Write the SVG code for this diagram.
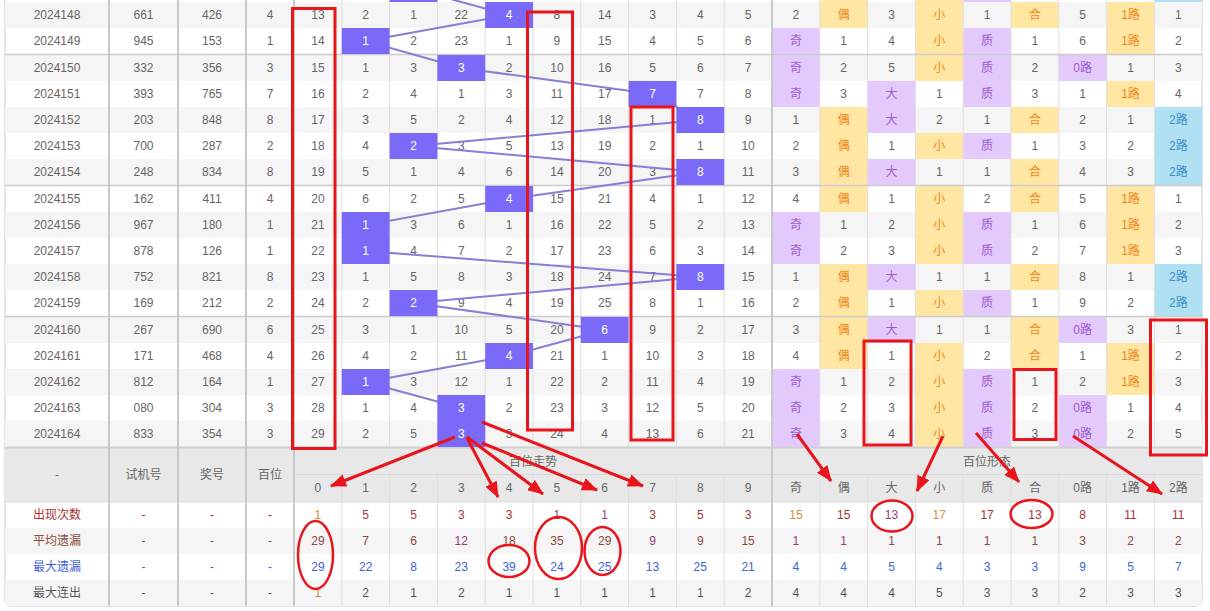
<svg xmlns="http://www.w3.org/2000/svg" width="1210" height="611" viewBox="0 0 1210 611">
<defs>
<style>
text{font-family:"Liberation Sans","Noto Sans CJK SC",sans-serif;font-size:12px;text-anchor:middle;fill:#666}
.w{fill:#fff}
.o{fill:#f0861a}
.p{fill:#9b5ed0}
.b{fill:#3e8fc4}
.cy{fill:#ffe6a3}
.cp{fill:#e4c9fc}
.cb{fill:#b0e1f2}
.hl{fill:#7b6af7}
.g{fill:#f5f5f5}
.tk{stroke:#c8c8c8;stroke-width:2}
.tn{stroke:#dedede;stroke-width:1}
.sep{stroke:#cccccc;stroke-width:1.5}
.red{fill:none;stroke:#e8151d;stroke-width:3}
.ell{fill:none;stroke:#e8151d;stroke-width:2.5}
.arr{fill:none;stroke:#e8151d;stroke-width:3;marker-end:url(#ah)}
.trend{fill:none;stroke:#877fd6;stroke-width:2}
.s1{fill:#a83232}
.s1o{fill:#d98a3a}
.s1p{fill:#9a3a7a}
.s2{fill:#8b4a3a}
.s3{fill:#4163d6}
.s4{fill:#555}
</style>
<marker id="ah" markerUnits="userSpaceOnUse" markerWidth="16" markerHeight="13" refX="15" refY="6.5" orient="auto">
<path d="M0,0 L16,6.5 L0,13 z" fill="#e8151d"/>
</marker>
</defs>
<rect x="0" y="0" width="1210" height="611" fill="#fff"/>
<g id="table">
<rect x="5" y="-10" width="1197" height="616" rx="6" fill="#fff" stroke="#dddddd" stroke-width="1.5"/>
<g id="rowbg">
<rect class="g" x="5" y="2" width="1197" height="26"/>
<rect class="g" x="5" y="55" width="1197" height="26"/>
<rect class="g" x="5" y="107" width="1197" height="26"/>
<rect class="g" x="5" y="159" width="1197" height="26"/>
<rect class="g" x="5" y="212" width="1197" height="26"/>
<rect class="g" x="5" y="264" width="1197" height="26"/>
<rect class="g" x="5" y="317" width="1197" height="26"/>
<rect class="g" x="5" y="369" width="1197" height="26"/>
<rect class="g" x="5" y="421" width="1197" height="26"/>
<rect x="5" y="448" width="1197" height="54" fill="#e8e8e8"/>
<rect class="g" x="5" y="528" width="1197" height="26"/>
<rect class="g" x="5" y="580" width="1197" height="26"/>
</g>
<g id="formbg">
<rect class="cp" x="772" y="28" width="47.8" height="79"/>
<rect class="cp" x="772" y="212" width="47.8" height="52"/>
<rect class="cp" x="772" y="369" width="47.8" height="78"/>
<rect class="cy" x="819.8" y="0" width="47.8" height="28"/>
<rect class="cy" x="819.8" y="107" width="47.8" height="105"/>
<rect class="cy" x="819.8" y="264" width="47.8" height="105"/>
<rect class="cp" x="867.6" y="81" width="47.8" height="52"/>
<rect class="cp" x="867.6" y="159" width="47.8" height="26"/>
<rect class="cp" x="867.6" y="264" width="47.8" height="26"/>
<rect class="cp" x="867.6" y="317" width="47.8" height="26"/>
<rect class="cy" x="915.4" y="0" width="47.8" height="81"/>
<rect class="cy" x="915.4" y="133" width="47.8" height="26"/>
<rect class="cy" x="915.4" y="186" width="47.8" height="78"/>
<rect class="cy" x="915.4" y="290" width="47.8" height="26"/>
<rect class="cy" x="915.4" y="343" width="47.8" height="104"/>
<rect class="cp" x="963.2" y="0" width="47.8" height="2"/>
<rect class="cp" x="963.2" y="28" width="47.8" height="79"/>
<rect class="cp" x="963.2" y="133" width="47.8" height="26"/>
<rect class="cp" x="963.2" y="212" width="47.8" height="52"/>
<rect class="cp" x="963.2" y="290" width="47.8" height="26"/>
<rect class="cp" x="963.2" y="369" width="47.8" height="78"/>
<rect class="cy" x="1011" y="2" width="47.8" height="26"/>
<rect class="cy" x="1011" y="107" width="47.8" height="26"/>
<rect class="cy" x="1011" y="159" width="47.8" height="53"/>
<rect class="cy" x="1011" y="264" width="47.8" height="26"/>
<rect class="cy" x="1011" y="317" width="47.8" height="52"/>
<rect class="cp" x="1058.8" y="55" width="47.8" height="26"/>
<rect class="cp" x="1058.8" y="317" width="47.8" height="26"/>
<rect class="cp" x="1058.8" y="395" width="47.8" height="52"/>
<rect class="cy" x="1106.6" y="2" width="47.8" height="52"/>
<rect class="cy" x="1106.6" y="81" width="47.8" height="26"/>
<rect class="cy" x="1106.6" y="186" width="47.8" height="78"/>
<rect class="cy" x="1106.6" y="343" width="47.8" height="52"/>
<rect class="cb" x="1154.4" y="0" width="47.8" height="2"/>
<rect class="cb" x="1154.4" y="107" width="47.8" height="78"/>
<rect class="cb" x="1154.4" y="264" width="47.8" height="52"/>
</g>
<g id="grid">
<line class="tn" x1="341.8" y1="0" x2="341.8" y2="447"/><line class="tn" x1="389.6" y1="0" x2="389.6" y2="447"/><line class="tn" x1="437.4" y1="0" x2="437.4" y2="447"/><line class="tn" x1="485.2" y1="0" x2="485.2" y2="447"/><line class="tn" x1="533" y1="0" x2="533" y2="447"/><line class="tn" x1="580.8" y1="0" x2="580.8" y2="447"/><line class="tn" x1="628.6" y1="0" x2="628.6" y2="447"/><line class="tn" x1="676.4" y1="0" x2="676.4" y2="447"/><line class="tn" x1="724.2" y1="0" x2="724.2" y2="447"/>
<line class="tn" x1="819.8" y1="0" x2="819.8" y2="447"/><line class="tn" x1="867.6" y1="0" x2="867.6" y2="447"/><line class="tn" x1="915.4" y1="0" x2="915.4" y2="447"/><line class="tn" x1="963.2" y1="0" x2="963.2" y2="447"/><line class="tn" x1="1011" y1="0" x2="1011" y2="447"/><line class="tn" x1="1058.8" y1="0" x2="1058.8" y2="447"/><line class="tn" x1="1106.6" y1="0" x2="1106.6" y2="447"/><line class="tn" x1="1154.4" y1="0" x2="1154.4" y2="447"/>
<line class="tn" x1="341.8" y1="475" x2="341.8" y2="606"/><line class="tn" x1="389.6" y1="475" x2="389.6" y2="606"/><line class="tn" x1="437.4" y1="475" x2="437.4" y2="606"/><line class="tn" x1="485.2" y1="475" x2="485.2" y2="606"/><line class="tn" x1="533" y1="475" x2="533" y2="606"/><line class="tn" x1="580.8" y1="475" x2="580.8" y2="606"/><line class="tn" x1="628.6" y1="475" x2="628.6" y2="606"/><line class="tn" x1="676.4" y1="475" x2="676.4" y2="606"/><line class="tn" x1="724.2" y1="475" x2="724.2" y2="606"/>
<line class="tn" x1="819.8" y1="475" x2="819.8" y2="606"/><line class="tn" x1="867.6" y1="475" x2="867.6" y2="606"/><line class="tn" x1="915.4" y1="475" x2="915.4" y2="606"/><line class="tn" x1="963.2" y1="475" x2="963.2" y2="606"/><line class="tn" x1="1011" y1="475" x2="1011" y2="606"/><line class="tn" x1="1058.8" y1="475" x2="1058.8" y2="606"/><line class="tn" x1="1106.6" y1="475" x2="1106.6" y2="606"/><line class="tn" x1="1154.4" y1="475" x2="1154.4" y2="606"/>
<line class="sep" x1="5" y1="54.5" x2="1202" y2="54.5"/>
<line class="sep" x1="5" y1="185.5" x2="1202" y2="185.5"/>
<line class="sep" x1="5" y1="316.5" x2="1202" y2="316.5"/>
<line x1="5" y1="447.5" x2="1202" y2="447.5" stroke="#d0d0d0" stroke-width="2"/>
<line x1="294" y1="474.5" x2="1202" y2="474.5" stroke="#d8d8d8" stroke-width="1"/>
<line x1="5" y1="502" x2="1202" y2="502" stroke="#dcdcdc" stroke-width="1"/>
<line class="tk" x1="109" y1="0" x2="109" y2="606"/>
<line class="tk" x1="178" y1="0" x2="178" y2="606"/>
<line class="tk" x1="246" y1="0" x2="246" y2="606"/>
<line class="tk" x1="294" y1="0" x2="294" y2="606"/>
<line class="tk" x1="772" y1="0" x2="772" y2="606"/>
</g>
<g id="rows">
<text y="19"><tspan x="57">2024148</tspan><tspan x="143.5">661</tspan><tspan x="212">426</tspan><tspan x="270">4</tspan><tspan x="317.9">13</tspan><tspan x="365.7">2</tspan><tspan x="413.5">1</tspan><tspan x="461.3">22</tspan><tspan x="556.9">8</tspan><tspan x="604.7">14</tspan><tspan x="652.5">3</tspan><tspan x="700.3">4</tspan><tspan x="748.1">5</tspan><tspan x="795.9">2</tspan><tspan x="843.7" class="o">偶</tspan><tspan x="891.5">3</tspan><tspan x="939.3" class="o">小</tspan><tspan x="987.1">1</tspan><tspan x="1034.9" class="o">合</tspan><tspan x="1082.7">5</tspan><tspan x="1130.5" class="o">1路</tspan><tspan x="1178.3">1</tspan></text>
<text y="45"><tspan x="57">2024149</tspan><tspan x="143.5">945</tspan><tspan x="212">153</tspan><tspan x="270">1</tspan><tspan x="317.9">14</tspan><tspan x="413.5">2</tspan><tspan x="461.3">23</tspan><tspan x="509.1">1</tspan><tspan x="556.9">9</tspan><tspan x="604.7">15</tspan><tspan x="652.5">4</tspan><tspan x="700.3">5</tspan><tspan x="748.1">6</tspan><tspan x="795.9" class="p">奇</tspan><tspan x="843.7">1</tspan><tspan x="891.5">4</tspan><tspan x="939.3" class="o">小</tspan><tspan x="987.1" class="p">质</tspan><tspan x="1034.9">1</tspan><tspan x="1082.7">6</tspan><tspan x="1130.5" class="o">1路</tspan><tspan x="1178.3">2</tspan></text>
<text y="72"><tspan x="57">2024150</tspan><tspan x="143.5">332</tspan><tspan x="212">356</tspan><tspan x="270">3</tspan><tspan x="317.9">15</tspan><tspan x="365.7">1</tspan><tspan x="413.5">3</tspan><tspan x="509.1">2</tspan><tspan x="556.9">10</tspan><tspan x="604.7">16</tspan><tspan x="652.5">5</tspan><tspan x="700.3">6</tspan><tspan x="748.1">7</tspan><tspan x="795.9" class="p">奇</tspan><tspan x="843.7">2</tspan><tspan x="891.5">5</tspan><tspan x="939.3" class="o">小</tspan><tspan x="987.1" class="p">质</tspan><tspan x="1034.9">2</tspan><tspan x="1082.7" class="p">0路</tspan><tspan x="1130.5">1</tspan><tspan x="1178.3">3</tspan></text>
<text y="98"><tspan x="57">2024151</tspan><tspan x="143.5">393</tspan><tspan x="212">765</tspan><tspan x="270">7</tspan><tspan x="317.9">16</tspan><tspan x="365.7">2</tspan><tspan x="413.5">4</tspan><tspan x="461.3">1</tspan><tspan x="509.1">3</tspan><tspan x="556.9">11</tspan><tspan x="604.7">17</tspan><tspan x="700.3">7</tspan><tspan x="748.1">8</tspan><tspan x="795.9" class="p">奇</tspan><tspan x="843.7">3</tspan><tspan x="891.5" class="p">大</tspan><tspan x="939.3">1</tspan><tspan x="987.1" class="p">质</tspan><tspan x="1034.9">3</tspan><tspan x="1082.7">1</tspan><tspan x="1130.5" class="o">1路</tspan><tspan x="1178.3">4</tspan></text>
<text y="124"><tspan x="57">2024152</tspan><tspan x="143.5">203</tspan><tspan x="212">848</tspan><tspan x="270">8</tspan><tspan x="317.9">17</tspan><tspan x="365.7">3</tspan><tspan x="413.5">5</tspan><tspan x="461.3">2</tspan><tspan x="509.1">4</tspan><tspan x="556.9">12</tspan><tspan x="604.7">18</tspan><tspan x="652.5">1</tspan><tspan x="748.1">9</tspan><tspan x="795.9">1</tspan><tspan x="843.7" class="o">偶</tspan><tspan x="891.5" class="p">大</tspan><tspan x="939.3">2</tspan><tspan x="987.1">1</tspan><tspan x="1034.9" class="o">合</tspan><tspan x="1082.7">2</tspan><tspan x="1130.5">1</tspan><tspan x="1178.3" class="b">2路</tspan></text>
<text y="150"><tspan x="57">2024153</tspan><tspan x="143.5">700</tspan><tspan x="212">287</tspan><tspan x="270">2</tspan><tspan x="317.9">18</tspan><tspan x="365.7">4</tspan><tspan x="461.3">3</tspan><tspan x="509.1">5</tspan><tspan x="556.9">13</tspan><tspan x="604.7">19</tspan><tspan x="652.5">2</tspan><tspan x="700.3">1</tspan><tspan x="748.1">10</tspan><tspan x="795.9">2</tspan><tspan x="843.7" class="o">偶</tspan><tspan x="891.5">1</tspan><tspan x="939.3" class="o">小</tspan><tspan x="987.1" class="p">质</tspan><tspan x="1034.9">1</tspan><tspan x="1082.7">3</tspan><tspan x="1130.5">2</tspan><tspan x="1178.3" class="b">2路</tspan></text>
<text y="176"><tspan x="57">2024154</tspan><tspan x="143.5">248</tspan><tspan x="212">834</tspan><tspan x="270">8</tspan><tspan x="317.9">19</tspan><tspan x="365.7">5</tspan><tspan x="413.5">1</tspan><tspan x="461.3">4</tspan><tspan x="509.1">6</tspan><tspan x="556.9">14</tspan><tspan x="604.7">20</tspan><tspan x="652.5">3</tspan><tspan x="748.1">11</tspan><tspan x="795.9">3</tspan><tspan x="843.7" class="o">偶</tspan><tspan x="891.5" class="p">大</tspan><tspan x="939.3">1</tspan><tspan x="987.1">1</tspan><tspan x="1034.9" class="o">合</tspan><tspan x="1082.7">4</tspan><tspan x="1130.5">3</tspan><tspan x="1178.3" class="b">2路</tspan></text>
<text y="203"><tspan x="57">2024155</tspan><tspan x="143.5">162</tspan><tspan x="212">411</tspan><tspan x="270">4</tspan><tspan x="317.9">20</tspan><tspan x="365.7">6</tspan><tspan x="413.5">2</tspan><tspan x="461.3">5</tspan><tspan x="556.9">15</tspan><tspan x="604.7">21</tspan><tspan x="652.5">4</tspan><tspan x="700.3">1</tspan><tspan x="748.1">12</tspan><tspan x="795.9">4</tspan><tspan x="843.7" class="o">偶</tspan><tspan x="891.5">1</tspan><tspan x="939.3" class="o">小</tspan><tspan x="987.1">2</tspan><tspan x="1034.9" class="o">合</tspan><tspan x="1082.7">5</tspan><tspan x="1130.5" class="o">1路</tspan><tspan x="1178.3">1</tspan></text>
<text y="229"><tspan x="57">2024156</tspan><tspan x="143.5">967</tspan><tspan x="212">180</tspan><tspan x="270">1</tspan><tspan x="317.9">21</tspan><tspan x="413.5">3</tspan><tspan x="461.3">6</tspan><tspan x="509.1">1</tspan><tspan x="556.9">16</tspan><tspan x="604.7">22</tspan><tspan x="652.5">5</tspan><tspan x="700.3">2</tspan><tspan x="748.1">13</tspan><tspan x="795.9" class="p">奇</tspan><tspan x="843.7">1</tspan><tspan x="891.5">2</tspan><tspan x="939.3" class="o">小</tspan><tspan x="987.1" class="p">质</tspan><tspan x="1034.9">1</tspan><tspan x="1082.7">6</tspan><tspan x="1130.5" class="o">1路</tspan><tspan x="1178.3">2</tspan></text>
<text y="255"><tspan x="57">2024157</tspan><tspan x="143.5">878</tspan><tspan x="212">126</tspan><tspan x="270">1</tspan><tspan x="317.9">22</tspan><tspan x="413.5">4</tspan><tspan x="461.3">7</tspan><tspan x="509.1">2</tspan><tspan x="556.9">17</tspan><tspan x="604.7">23</tspan><tspan x="652.5">6</tspan><tspan x="700.3">3</tspan><tspan x="748.1">14</tspan><tspan x="795.9" class="p">奇</tspan><tspan x="843.7">2</tspan><tspan x="891.5">3</tspan><tspan x="939.3" class="o">小</tspan><tspan x="987.1" class="p">质</tspan><tspan x="1034.9">2</tspan><tspan x="1082.7">7</tspan><tspan x="1130.5" class="o">1路</tspan><tspan x="1178.3">3</tspan></text>
<text y="281"><tspan x="57">2024158</tspan><tspan x="143.5">752</tspan><tspan x="212">821</tspan><tspan x="270">8</tspan><tspan x="317.9">23</tspan><tspan x="365.7">1</tspan><tspan x="413.5">5</tspan><tspan x="461.3">8</tspan><tspan x="509.1">3</tspan><tspan x="556.9">18</tspan><tspan x="604.7">24</tspan><tspan x="652.5">7</tspan><tspan x="748.1">15</tspan><tspan x="795.9">1</tspan><tspan x="843.7" class="o">偶</tspan><tspan x="891.5" class="p">大</tspan><tspan x="939.3">1</tspan><tspan x="987.1">1</tspan><tspan x="1034.9" class="o">合</tspan><tspan x="1082.7">8</tspan><tspan x="1130.5">1</tspan><tspan x="1178.3" class="b">2路</tspan></text>
<text y="307"><tspan x="57">2024159</tspan><tspan x="143.5">169</tspan><tspan x="212">212</tspan><tspan x="270">2</tspan><tspan x="317.9">24</tspan><tspan x="365.7">2</tspan><tspan x="461.3">9</tspan><tspan x="509.1">4</tspan><tspan x="556.9">19</tspan><tspan x="604.7">25</tspan><tspan x="652.5">8</tspan><tspan x="700.3">1</tspan><tspan x="748.1">16</tspan><tspan x="795.9">2</tspan><tspan x="843.7" class="o">偶</tspan><tspan x="891.5">1</tspan><tspan x="939.3" class="o">小</tspan><tspan x="987.1" class="p">质</tspan><tspan x="1034.9">1</tspan><tspan x="1082.7">9</tspan><tspan x="1130.5">2</tspan><tspan x="1178.3" class="b">2路</tspan></text>
<text y="334"><tspan x="57">2024160</tspan><tspan x="143.5">267</tspan><tspan x="212">690</tspan><tspan x="270">6</tspan><tspan x="317.9">25</tspan><tspan x="365.7">3</tspan><tspan x="413.5">1</tspan><tspan x="461.3">10</tspan><tspan x="509.1">5</tspan><tspan x="556.9">20</tspan><tspan x="652.5">9</tspan><tspan x="700.3">2</tspan><tspan x="748.1">17</tspan><tspan x="795.9">3</tspan><tspan x="843.7" class="o">偶</tspan><tspan x="891.5" class="p">大</tspan><tspan x="939.3">1</tspan><tspan x="987.1">1</tspan><tspan x="1034.9" class="o">合</tspan><tspan x="1082.7" class="p">0路</tspan><tspan x="1130.5">3</tspan><tspan x="1178.3">1</tspan></text>
<text y="360"><tspan x="57">2024161</tspan><tspan x="143.5">171</tspan><tspan x="212">468</tspan><tspan x="270">4</tspan><tspan x="317.9">26</tspan><tspan x="365.7">4</tspan><tspan x="413.5">2</tspan><tspan x="461.3">11</tspan><tspan x="556.9">21</tspan><tspan x="604.7">1</tspan><tspan x="652.5">10</tspan><tspan x="700.3">3</tspan><tspan x="748.1">18</tspan><tspan x="795.9">4</tspan><tspan x="843.7" class="o">偶</tspan><tspan x="891.5">1</tspan><tspan x="939.3" class="o">小</tspan><tspan x="987.1">2</tspan><tspan x="1034.9" class="o">合</tspan><tspan x="1082.7">1</tspan><tspan x="1130.5" class="o">1路</tspan><tspan x="1178.3">2</tspan></text>
<text y="386"><tspan x="57">2024162</tspan><tspan x="143.5">812</tspan><tspan x="212">164</tspan><tspan x="270">1</tspan><tspan x="317.9">27</tspan><tspan x="413.5">3</tspan><tspan x="461.3">12</tspan><tspan x="509.1">1</tspan><tspan x="556.9">22</tspan><tspan x="604.7">2</tspan><tspan x="652.5">11</tspan><tspan x="700.3">4</tspan><tspan x="748.1">19</tspan><tspan x="795.9" class="p">奇</tspan><tspan x="843.7">1</tspan><tspan x="891.5">2</tspan><tspan x="939.3" class="o">小</tspan><tspan x="987.1" class="p">质</tspan><tspan x="1034.9">1</tspan><tspan x="1082.7">2</tspan><tspan x="1130.5" class="o">1路</tspan><tspan x="1178.3">3</tspan></text>
<text y="412"><tspan x="57">2024163</tspan><tspan x="143.5">080</tspan><tspan x="212">304</tspan><tspan x="270">3</tspan><tspan x="317.9">28</tspan><tspan x="365.7">1</tspan><tspan x="413.5">4</tspan><tspan x="509.1">2</tspan><tspan x="556.9">23</tspan><tspan x="604.7">3</tspan><tspan x="652.5">12</tspan><tspan x="700.3">5</tspan><tspan x="748.1">20</tspan><tspan x="795.9" class="p">奇</tspan><tspan x="843.7">2</tspan><tspan x="891.5">3</tspan><tspan x="939.3" class="o">小</tspan><tspan x="987.1" class="p">质</tspan><tspan x="1034.9">2</tspan><tspan x="1082.7" class="p">0路</tspan><tspan x="1130.5">1</tspan><tspan x="1178.3">4</tspan></text>
<text y="438"><tspan x="57">2024164</tspan><tspan x="143.5">833</tspan><tspan x="212">354</tspan><tspan x="270">3</tspan><tspan x="317.9">29</tspan><tspan x="365.7">2</tspan><tspan x="413.5">5</tspan><tspan x="509.1">3</tspan><tspan x="556.9">24</tspan><tspan x="604.7">4</tspan><tspan x="652.5">13</tspan><tspan x="700.3">6</tspan><tspan x="748.1">21</tspan><tspan x="795.9" class="p">奇</tspan><tspan x="843.7">3</tspan><tspan x="891.5">4</tspan><tspan x="939.3" class="o">小</tspan><tspan x="987.1" class="p">质</tspan><tspan x="1034.9">3</tspan><tspan x="1082.7" class="p">0路</tspan><tspan x="1130.5">2</tspan><tspan x="1178.3">5</tspan></text>
</g>
<g id="header">
<text x="57" y="479">-</text>
<text x="143.5" y="478.5">试机号</text>
<text x="212" y="478.5">奖号</text>
<text x="270" y="478.5">百位</text>
<text x="533" y="466">百位走势</text>
<text x="987.1" y="466">百位形态</text>
<text y="492"><tspan x="317.9">0</tspan><tspan x="365.7">1</tspan><tspan x="413.5">2</tspan><tspan x="461.3">3</tspan><tspan x="509.1">4</tspan><tspan x="556.9">5</tspan><tspan x="604.7">6</tspan><tspan x="652.5">7</tspan><tspan x="700.3">8</tspan><tspan x="748.1">9</tspan><tspan x="795.9">奇</tspan><tspan x="843.7">偶</tspan><tspan x="891.5">大</tspan><tspan x="939.3">小</tspan><tspan x="987.1">质</tspan><tspan x="1034.9">合</tspan><tspan x="1082.7">0路</tspan><tspan x="1130.5">1路</tspan><tspan x="1178.3">2路</tspan></text>
</g>
<g id="stats">
<text y="519" class="s1"><tspan x="57">出现次数</tspan><tspan x="143.5">-</tspan><tspan x="212">-</tspan><tspan x="270">-</tspan><tspan x="317.9" class="s1o">1</tspan><tspan x="365.7">5</tspan><tspan x="413.5">5</tspan><tspan x="461.3">3</tspan><tspan x="509.1">3</tspan><tspan x="556.9" class="s1p">1</tspan><tspan x="604.7" class="s1p">1</tspan><tspan x="652.5">3</tspan><tspan x="700.3">5</tspan><tspan x="748.1">3</tspan><tspan x="795.9" class="s1o">15</tspan><tspan x="843.7">15</tspan><tspan x="891.5" class="s1p">13</tspan><tspan x="939.3" class="s1o">17</tspan><tspan x="987.1">17</tspan><tspan x="1034.9">13</tspan><tspan x="1082.7">8</tspan><tspan x="1130.5">11</tspan><tspan x="1178.3">11</tspan></text>
<text y="545" class="s2"><tspan x="57">平均遗漏</tspan><tspan x="143.5">-</tspan><tspan x="212">-</tspan><tspan x="270">-</tspan><tspan x="317.9">29</tspan><tspan x="365.7">7</tspan><tspan x="413.5">6</tspan><tspan x="461.3" class="s1p">12</tspan><tspan x="509.1">18</tspan><tspan x="556.9">35</tspan><tspan x="604.7">29</tspan><tspan x="652.5" class="s1p">9</tspan><tspan x="700.3">9</tspan><tspan x="748.1">15</tspan><tspan x="795.9" class="s1p">1</tspan><tspan x="843.7" class="s1p">1</tspan><tspan x="891.5">1</tspan><tspan x="939.3">1</tspan><tspan x="987.1">1</tspan><tspan x="1034.9">1</tspan><tspan x="1082.7">3</tspan><tspan x="1130.5">2</tspan><tspan x="1178.3">2</tspan></text>
<text y="571" class="s3"><tspan x="57">最大遗漏</tspan><tspan x="143.5">-</tspan><tspan x="212">-</tspan><tspan x="270">-</tspan><tspan x="317.9">29</tspan><tspan x="365.7">22</tspan><tspan x="413.5">8</tspan><tspan x="461.3">23</tspan><tspan x="509.1">39</tspan><tspan x="556.9">24</tspan><tspan x="604.7">25</tspan><tspan x="652.5">13</tspan><tspan x="700.3">25</tspan><tspan x="748.1">21</tspan><tspan x="795.9">4</tspan><tspan x="843.7">4</tspan><tspan x="891.5">5</tspan><tspan x="939.3">4</tspan><tspan x="987.1">3</tspan><tspan x="1034.9">3</tspan><tspan x="1082.7">9</tspan><tspan x="1130.5">5</tspan><tspan x="1178.3">7</tspan></text>
<text y="597" class="s4"><tspan x="57">最大连出</tspan><tspan x="143.5">-</tspan><tspan x="212">-</tspan><tspan x="270">-</tspan><tspan x="317.9" class="s1o">1</tspan><tspan x="365.7">2</tspan><tspan x="413.5">1</tspan><tspan x="461.3">2</tspan><tspan x="509.1">1</tspan><tspan x="556.9">1</tspan><tspan x="604.7">1</tspan><tspan x="652.5">1</tspan><tspan x="700.3">1</tspan><tspan x="748.1">2</tspan><tspan x="795.9">4</tspan><tspan x="843.7">4</tspan><tspan x="891.5">4</tspan><tspan x="939.3">5</tspan><tspan x="987.1">3</tspan><tspan x="1034.9">3</tspan><tspan x="1082.7">2</tspan><tspan x="1130.5">3</tspan><tspan x="1178.3">3</tspan></text>
</g>
</g>
<g id="connectors">
<polyline class="trend" points="413.5,-11 509.1,15 365.7,41 461.3,68 652.5,94 700.3,120 413.5,146 700.3,172 509.1,199 365.7,225 365.7,251 700.3,277 413.5,303 604.7,330 509.1,356 365.7,382 461.3,408 461.3,434"/>
</g>
<g id="nodes">
<g id="n147"><rect class="hl" x="389.6" y="-24" width="47.8" height="26"/></g>
<g id="n148"><rect class="hl" x="485.2" y="2" width="47.8" height="26"/><text class="w" x="509.1" y="19">4</text></g>
<g id="n149"><rect class="hl" x="341.8" y="28" width="47.8" height="26"/><text class="w" x="365.7" y="45">1</text></g>
<g id="n150"><rect class="hl" x="437.4" y="55" width="47.8" height="26"/><text class="w" x="461.3" y="72">3</text></g>
<g id="n151"><rect class="hl" x="628.6" y="81" width="47.8" height="26"/><text class="w" x="652.5" y="98">7</text></g>
<g id="n152"><rect class="hl" x="676.4" y="107" width="47.8" height="26"/><text class="w" x="700.3" y="124">8</text></g>
<g id="n153"><rect class="hl" x="389.6" y="133" width="47.8" height="26"/><text class="w" x="413.5" y="150">2</text></g>
<g id="n154"><rect class="hl" x="676.4" y="159" width="47.8" height="26"/><text class="w" x="700.3" y="176">8</text></g>
<g id="n155"><rect class="hl" x="485.2" y="186" width="47.8" height="26"/><text class="w" x="509.1" y="203">4</text></g>
<g id="n156"><rect class="hl" x="341.8" y="212" width="47.8" height="26"/><text class="w" x="365.7" y="229">1</text></g>
<g id="n157"><rect class="hl" x="341.8" y="238" width="47.8" height="26"/><text class="w" x="365.7" y="255">1</text></g>
<g id="n158"><rect class="hl" x="676.4" y="264" width="47.8" height="26"/><text class="w" x="700.3" y="281">8</text></g>
<g id="n159"><rect class="hl" x="389.6" y="290" width="47.8" height="26"/><text class="w" x="413.5" y="307">2</text></g>
<g id="n160"><rect class="hl" x="580.8" y="317" width="47.8" height="26"/><text class="w" x="604.7" y="334">6</text></g>
<g id="n161"><rect class="hl" x="485.2" y="343" width="47.8" height="26"/><text class="w" x="509.1" y="360">4</text></g>
<g id="n162"><rect class="hl" x="341.8" y="369" width="47.8" height="26"/><text class="w" x="365.7" y="386">1</text></g>
<g id="n163"><rect class="hl" x="437.4" y="395" width="47.8" height="26"/><text class="w" x="461.3" y="412">3</text></g>
<g id="n164"><rect class="hl" x="437.4" y="421" width="47.8" height="26"/><text class="w" x="461.3" y="438">3</text></g>
</g>
<g id="annotations">
<rect class="red" x="292.5" y="8.5" width="42.5" height="440"/>
<rect class="red" x="527.5" y="12" width="45" height="418"/>
<rect class="red" x="631" y="107" width="42" height="333"/>
<rect class="red" x="864" y="341" width="47" height="104"/>
<rect class="red" x="1014" y="369.5" width="42" height="70"/>
<rect class="red" x="1150.5" y="320" width="56" height="135"/>
<ellipse class="ell" cx="315.5" cy="555" rx="17.5" ry="34"/>
<ellipse class="ell" cx="509" cy="561" rx="20.5" ry="16"/>
<ellipse class="ell" cx="558.5" cy="548" rx="23.5" ry="31"/>
<ellipse class="ell" cx="602.5" cy="551" rx="18" ry="24"/>
<ellipse class="ell" cx="892" cy="516" rx="20.5" ry="15.5"/>
<ellipse class="ell" cx="1031.5" cy="514" rx="21" ry="14"/>
<line class="arr" x1="455" y1="437" x2="331" y2="486"/>
<line class="arr" x1="467" y1="438" x2="498" y2="497"/>
<line class="arr" x1="467" y1="437" x2="543" y2="494"/>
<line class="arr" x1="482" y1="443" x2="597" y2="490"/>
<line class="arr" x1="482" y1="422" x2="643" y2="486"/>
<line class="arr" x1="797" y1="434" x2="831" y2="481"/>
<line class="arr" x1="943" y1="436" x2="917" y2="491"/>
<line class="arr" x1="976" y1="433" x2="1019" y2="482"/>
<line class="arr" x1="1073" y1="436" x2="1162" y2="494"/>
</g>
</svg>
